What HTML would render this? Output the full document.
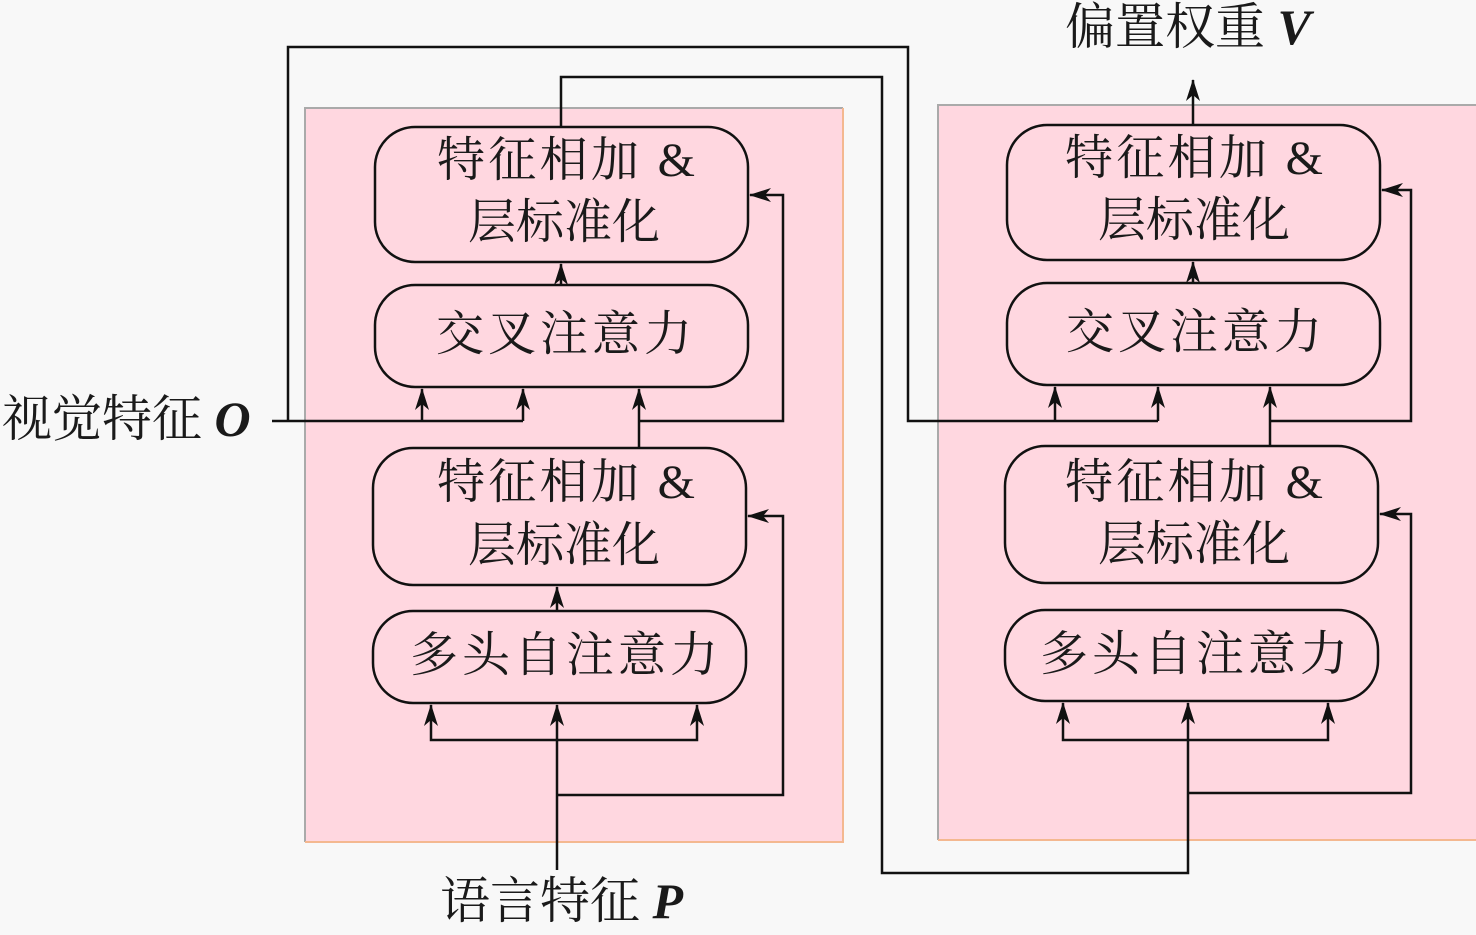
<!DOCTYPE html>
<html><head><meta charset="utf-8"><style>
html,body{margin:0;padding:0;background:#f8f8f8;}
svg{display:block;}
text{font-family:"Liberation Serif","Noto Serif CJK SC",serif;fill:#1a1a1a;}
</style></head><body>
<svg width="1476" height="935" viewBox="0 0 1476 935" xmlns="http://www.w3.org/2000/svg">
<defs>
<marker id="a" markerWidth="22" markerHeight="14" refX="21" refY="7" orient="auto" markerUnits="userSpaceOnUse" viewBox="0 0 22 14">
<path d="M0,0 L22,7 L0,14 L6,7 Z" fill="#111"/>
</marker>
</defs>
<rect width="1476" height="935" fill="#f8f8f8"/>
<rect x="305" y="108" width="538" height="734" fill="#ffd7e0"/>
<path d="M305,842 V108 H843" fill="none" stroke="#aaa" stroke-width="2"/>
<path d="M843,108 V842 H305" fill="none" stroke="#f4b890" stroke-width="2"/>
<rect x="938" y="105" width="538" height="735" fill="#ffd7e0"/>
<path d="M938,840 V105 H1476" fill="none" stroke="#aaa" stroke-width="2"/>
<path d="M938,840 H1476" fill="none" stroke="#f4b890" stroke-width="2"/>
<g fill="#ffd7e0" stroke="#111" stroke-width="2.5">
<rect x="375" y="127" width="373" height="135" rx="40"/>
<rect x="375" y="285" width="373" height="102" rx="40"/>
<rect x="373" y="448" width="373" height="137" rx="40"/>
<rect x="373" y="611" width="373" height="92" rx="40"/>
<rect x="1007" y="125" width="373" height="135" rx="40"/>
<rect x="1007" y="283" width="373" height="102" rx="40"/>
<rect x="1005" y="446" width="373" height="137" rx="40"/>
<rect x="1005" y="610" width="373" height="91" rx="40"/>
</g>
<g fill="none" stroke="#111" stroke-width="2.5">
<path d="M272,421 H523"/>
<path d="M422,421 V389" marker-end="url(#a)"/>
<path d="M523,421 V389" marker-end="url(#a)"/>
<path d="M288,421 V47 H908 V421 H1158"/>
<path d="M1055,421 V387" marker-end="url(#a)"/>
<path d="M1158,421 V387" marker-end="url(#a)"/>
<path d="M561,127 V77 H882 V873 H1188 V703" marker-end="url(#a)"/>
<path d="M1188,740 H1063 V703" marker-end="url(#a)"/>
<path d="M1188,740 H1328 V703" marker-end="url(#a)"/>
<path d="M1188,793 H1411 V514 H1380" marker-end="url(#a)"/>
<path d="M557,870 V705" marker-end="url(#a)"/>
<path d="M557,740 H431 V705" marker-end="url(#a)"/>
<path d="M557,740 H697 V705" marker-end="url(#a)"/>
<path d="M557,795 H783 V516 H748" marker-end="url(#a)"/>
<path d="M557,611 V587" marker-end="url(#a)"/>
<path d="M639,448 V389" marker-end="url(#a)"/>
<path d="M639,421 H783 V195 H750" marker-end="url(#a)"/>
<path d="M561,285 V264" marker-end="url(#a)"/>
<path d="M1270,446 V387" marker-end="url(#a)"/>
<path d="M1270,421 H1411 V190 H1382" marker-end="url(#a)"/>
<path d="M1193,283 V262" marker-end="url(#a)"/>
<path d="M1193,125 V80" marker-end="url(#a)"/>
</g>
<g font-size="48" text-anchor="middle">
<text x="566" y="176" textLength="258" lengthAdjust="spacing">特征相加 &amp;</text>
<text x="564" y="238">层标准化</text>
<text x="564" y="350" textLength="256" lengthAdjust="spacing">交叉注意力</text>
<text x="566" y="498" textLength="258" lengthAdjust="spacing">特征相加 &amp;</text>
<text x="564" y="561">层标准化</text>
<text x="564" y="671" textLength="308" lengthAdjust="spacing">多头自注意力</text>
<text x="1194" y="174" textLength="258" lengthAdjust="spacing">特征相加 &amp;</text>
<text x="1194" y="236">层标准化</text>
<text x="1194" y="348" textLength="256" lengthAdjust="spacing">交叉注意力</text>
<text x="1194" y="498" textLength="258" lengthAdjust="spacing">特征相加 &amp;</text>
<text x="1194" y="560">层标准化</text>
<text x="1194" y="670" textLength="308" lengthAdjust="spacing">多头自注意力</text>
</g>
<g font-size="50">
<text x="2" y="436">视觉特征 <tspan font-style="italic" font-weight="bold">O</tspan></text>
<text x="440" y="918">语言特征 <tspan font-style="italic" font-weight="bold">P</tspan></text>
<text x="1065" y="44">偏置权重 <tspan font-style="italic" font-weight="bold">V</tspan></text>
</g>
</svg>
</body></html>
